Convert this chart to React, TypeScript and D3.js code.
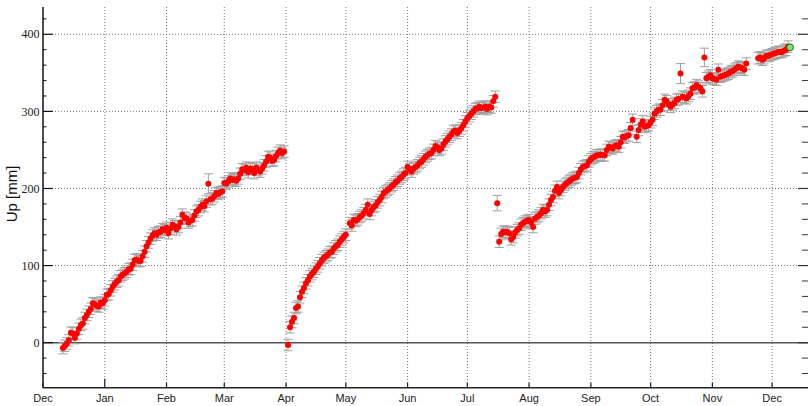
import React from "react";
import * as d3 from "d3";

// ---- data (day offsets from 2011-12-01, vertical displacement in mm) ----
const seg1Start = 10;
const seg1Values: (number | null)[] = [
  -7, -4, -1, 3, 13, 12, 6, 12, 18, 23,
  25, 32, 36, 40, 44, 51, 50, 48, 47, 52,
  51, 55, 62, 63, 68, 73, 76, 79, 81, 86,
  88, 90, 92, 95, 96, 101, 107, 108, 106, 106,
  112, 118, 125, 130, 135, 139, 142, 140, 143, 144,
  147, 146, 149, 142, 148, 153, 151, 147, 150, 156,
  166, 162, 161, 156, 158, 159, 165, 170, 172, 176,
  179, 177, 183, null, 186, 187, 190, 194, 193, 195,
  196, 207, 206, 209, 213, 211, 212, 210, 213, 219,
  225, 224, 227, 221, 226, 225, 220, 227, 224, 222,
  226, 230, 235, 241, 240, 236, 237, 242, 246, 249,
  246, 248,
];

const seg2Start = 123;
const seg2Values: (number | null)[] = [
  -3, 20, 27, 32, 45, 47, 59, 66, 71, 77,
  81, 86, 89, 92, 96, 99, 103, 107, 110, 112,
  114, 117, 118, 122, 125, 127, 131, 134, 137, 140,
  null, 155, 152, 159, 158, 160, 163, 165, 168, 172,
  179, 167, 172, 176, 178, 182, 185, 189, 194, 196,
  198, 200, 203, 205, 208, 210, 213, 215, 218, 220,
  228, 225, 222, 226, 228, 230, 233, 235, 238, 241,
  243, 245, 246, 250, 255, 253, 250, 252, 257, 261,
  264, 267, 270, 274, 275, 272, 275, 278, 282, 287,
  291, 294, 297, 300, 303, 304, 306, 304, 305, 306,
  303, 306, 305, 313, 319,
];

const seg3Start = 229;
const seg3Values: (number | null)[] = [
  131, 141, 144, 143, 144, 142, 134, 137, 143, 146,
  148, 153, 155, 157, 158, 159, 156, 150, 161, 163,
  165, 168, 172, 170, 172, 179, 185, 189, 197, 202,
  194, 198, 202, 205, 207, 209, 211, 213, 214, 215,
  220, 225, 228, 229, 230, 235, 238, 240, 241, 243,
  243, 244, 243, 243, 250, 254, 253, 252, 255, 256,
  254, 260, 267, 266, 268, 269, 278, 289, null, 267,
  276, 283, 287, 280, 281, 282, 286, 289, 297, 300,
  302, 302, 308, 315, 313, 309, 306, 309, 311, 315,
  316, null, 319, 318, 317, 320, 323, 330, 331, 334,
  332, 330, 326, null, 343, 345, 347, 343, 342, 341,
  354, 345, 346, 347, 348, 349, 351, 352, 354, 356,
  358, 357, 356, 354, 362, null, null, null, null, null,
  369, 370, 367, 369, 372, 372, 373, 374, 375, 376,
  377, 377, 377, 379, 380, 384,
];

const outlierDays = [83, 228, 320, 332];
const outlierValues = [206, 181, 349, 370];
const outlierErrors = [13, 10, 13, 12];

const lastDay = 375;
const lastValue = 383;

const normalError = 7.5;
const yTicksMajor = [0, 100, 200, 300, 400];
const yLabel = "Up [mm]";

const baseDate = new Date(2011, 11, 1);
const endDate = new Date(2012, 11, 20);

type Pt = { date: Date; v: number; e: number };

function buildSeg(start: number, vals: (number | null)[]): Pt[] {
  const out: Pt[] = [];
  vals.forEach((v, i) => {
    if (v !== null) out.push({ date: d3.timeDay.offset(baseDate, start + i), v, e: normalError });
  });
  return out;
}

export default function App() {
  const W = 808, H = 406;
  const left = 43, right = 810, top = 7, bottom = 387.7;
  const x = d3.scaleTime().domain([baseDate, endDate]).range([left, right]);
  const y = d3.scaleLinear().domain([-58.4, 435.4]).range([bottom, top]);

  const points: Pt[] = [
    ...buildSeg(seg1Start, seg1Values),
    ...buildSeg(seg2Start, seg2Values),
    ...buildSeg(seg3Start, seg3Values),
    ...outlierDays.map((d, i) => ({ date: d3.timeDay.offset(baseDate, d), v: outlierValues[i], e: outlierErrors[i] })),
  ];
  const lastPt = { date: d3.timeDay.offset(baseDate, lastDay), v: lastValue };

  const months = d3.timeMonth.range(baseDate, new Date(2012, 11, 2));
  const fmt = d3.timeFormat("%b");
  const minorTicks = d3.range(-40, 436, 20).filter((t) => t % 100 !== 0);

  return (
    <svg width={W} height={H} style={{ position: "absolute", left: 0, top: 0, background: "#fff" }}>
      {/* grid */}
      {months.slice(1).map((m, i) => (
        <line key={"vg" + i} x1={x(m)} x2={x(m)} y1={top} y2={bottom} stroke="#777" strokeWidth={1} strokeDasharray="1,2" />
      ))}
      {yTicksMajor.filter((t) => t !== 0).map((t) => (
        <line key={"hg" + t} x1={left} x2={W} y1={y(t)} y2={y(t)} stroke="#777" strokeWidth={1} strokeDasharray="1,2" />
      ))}
      {/* zero line */}
      <line x1={left} x2={W} y1={y(0)} y2={y(0)} stroke="#555" strokeWidth={1.5} />

      {/* error bars */}
      <g stroke="#a0a0a0" strokeWidth={1}>
        {points.map((p, i) => {
          const cx = x(p.date);
          return (
            <g key={"e" + i}>
              <line x1={cx} x2={cx} y1={y(p.v - p.e)} y2={y(p.v + p.e)} />
              <line x1={cx - 4.5} x2={cx + 4.5} y1={y(p.v - p.e)} y2={y(p.v - p.e)} />
              <line x1={cx - 4.5} x2={cx + 4.5} y1={y(p.v + p.e)} y2={y(p.v + p.e)} />
            </g>
          );
        })}
      </g>
      {/* dots */}
      <g fill="#ff0000">
        {points.map((p, i) => (
          <circle key={"d" + i} cx={x(p.date)} cy={y(p.v)} r={3} />
        ))}
      </g>
      <circle cx={x(lastPt.date)} cy={y(lastPt.v)} r={3.4} fill="#7ee07e" stroke="#137013" strokeWidth={1} />

      {/* left axis */}
      <line x1={left} x2={left} y1={top} y2={bottom} stroke="#111" strokeWidth={1.5} />
      {yTicksMajor.map((t) => (
        <g key={"yt" + t}>
          <line x1={left} x2={left + 10} y1={y(t)} y2={y(t)} stroke="#111" strokeWidth={1.2} />
          <line x1={W - 10} x2={W} y1={y(t)} y2={y(t)} stroke="#333" strokeWidth={1.2} />
          <text x={39.5} y={y(t)} dy="0.35em" textAnchor="end" fontFamily="'Liberation Serif', serif" fontSize={12} fill="#222">
            {t}
          </text>
        </g>
      ))}
      {minorTicks.map((t) => (
        <g key={"ym" + t}>
          <line x1={left} x2={left + 3.5} y1={y(t)} y2={y(t)} stroke="#111" strokeWidth={1} />
          <line x1={W - 6} x2={W} y1={y(t)} y2={y(t)} stroke="#333" strokeWidth={1} />
        </g>
      ))}

      {/* bottom axis */}
      <line x1={left} x2={W} y1={bottom} y2={bottom} stroke="#222" strokeWidth={1.5} />
      {months.map((m, i) => (
        <g key={"xt" + i}>
          <line x1={x(m)} x2={x(m)} y1={bottom} y2={bottom - (m.getMonth() === 0 ? 9 : 5)} stroke="#222" strokeWidth={1.2} />
          <text x={x(m)} y={402} textAnchor="middle" fontFamily="'Liberation Sans', Arial, sans-serif" fontSize={11} fill="#222">
            {fmt(m)}
          </text>
        </g>
      ))}

      {/* y label */}
      <text transform={`translate(17,${194}) rotate(-90)`} textAnchor="middle" fontFamily="'Liberation Sans', Arial, sans-serif" fontSize={15} fill="#111">
        {yLabel}
      </text>
    </svg>
  );
}
